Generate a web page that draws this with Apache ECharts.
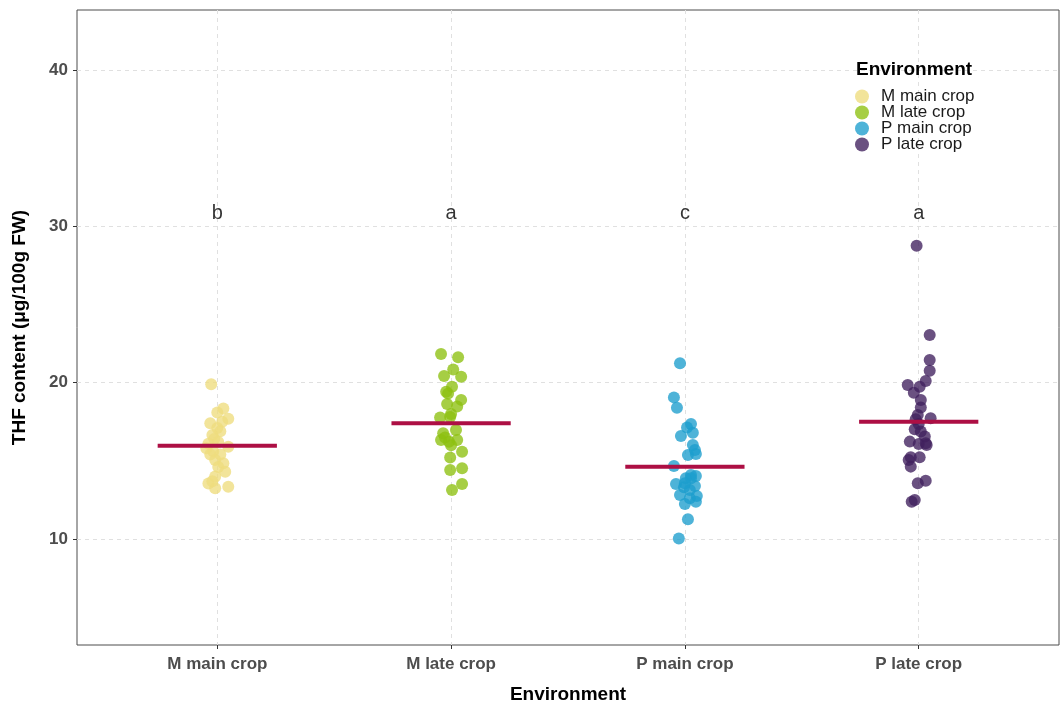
<!DOCTYPE html>
<html>
<head>
<meta charset="utf-8">
<script src="https://cdn.jsdelivr.net/npm/echarts@6/dist/echarts.min.js"></script>
<style>
  html, body { margin: 0; padding: 0; background: #fff; }
  #chart { width: 1060px; height: 707px; }
</style>
</head>
<body>
<div id="chart"></div>
<script>
// groups on the x axis
const groups = ['M main crop', 'M late crop', 'P main crop', 'P late crop'];
const groupColors = ['#EEDC7E', '#8DC00F', '#1C9DCD', '#40205E'];

// THF values per group and their horizontal jitter
const mMainVals = [19.9, 18.35, 18.1, 17.7, 17.4, 17.5, 17.1, 16.9, 16.65, 16.4, 16.1, 15.9, 15.6, 15.4, 15.4, 15.05, 14.85, 14.6, 14.3, 14.0, 13.55, 13.25, 13.35, 16.2, 15.8, 13.7];
const mMainJit = [-0.026, 0.026, 0, 0.047, -0.03, 0.021, 0, 0.013, -0.021, -0.013, -0.038, 0.047, -0.017, -0.03, 0.013, -0.009, 0.026, 0.004, 0.034, -0.009, -0.038, -0.009, 0.047, 0.004, -0.047, -0.021];

const mLateVals = [21.83, 21.62, 20.85, 20.43, 20.38, 19.74, 19.42, 19.3, 18.9, 18.64, 18.47, 18.0, 17.78, 17.8, 16.97, 16.76, 16.33, 16.22, 16.33, 16.5, 16.0, 15.58, 15.22, 14.41, 14.52, 13.52, 13.13];
const mLateJit = [-0.043, 0.03, 0.009, -0.03, 0.043, 0.004, -0.021, -0.013, 0.043, -0.017, 0.026, 0, -0.047, -0.004, 0.021, -0.034, -0.043, -0.009, 0.026, -0.026, 0, 0.047, -0.004, -0.004, 0.047, 0.047, 0.004];

const pMainVals = [21.24, 19.06, 18.4, 17.35, 17.14, 16.8, 16.59, 16.01, 15.69, 15.37, 15.44, 14.67, 14.09, 14.03, 13.88, 13.52, 13.39, 13.31, 13.13, 12.81, 12.75, 12.6, 12.24, 12.39, 11.26, 10.04, 13.88, 13.56];
const pMainJit = [-0.021, -0.047, -0.034, 0.026, 0.009, 0.034, -0.017, 0.034, 0.043, 0.013, 0.047, -0.047, 0.026, 0.047, 0.004, -0.038, 0.043, -0.004, 0.021, -0.021, 0.051, 0.021, 0, 0.047, 0.013, -0.026, 0.026, 0];

const pLateVals = [28.76, 23.05, 21.45, 20.77, 20.11, 19.85, 19.74, 19.36, 18.89, 18.42, 17.93, 17.66, 17.72, 17.36, 17.02, 16.87, 16.55, 16.23, 16.12, 16.08, 16.01, 15.23, 15.23, 15.05, 14.63, 13.73, 13.56, 12.5, 12.39];
const pLateJit = [-0.009, 0.047, 0.047, 0.047, 0.03, -0.047, 0.004, -0.021, 0.009, 0.009, -0.004, -0.013, 0.051, 0, -0.017, 0.009, 0.026, -0.038, 0.03, 0, 0.034, -0.034, 0.004, -0.043, -0.034, 0.03, -0.004, -0.017, -0.03];

// group means (crimson bars) and significance letters
const groupMeans = [15.97, 17.4, 14.63, 17.5];
const letters = ['b', 'a', 'c', 'a'];
const letterY = 30.85;

const yTicks = [10, 20, 30, 40];

const FONT = 'Liberation Sans, Arial, sans-serif';
const allVals = [mMainVals, mLateVals, pMainVals, pLateVals];
const allJit = [mMainJit, mLateJit, pMainJit, pLateJit];

let chart = echarts.init(document.getElementById('chart'));

let series = [];
groups.forEach((g, i) => {
  series.push({
    name: g,
    type: 'scatter',
    xAxisIndex: 0,
    yAxisIndex: 0,
    symbol: 'circle',
    symbolSize: 12,
    itemStyle: { color: groupColors[i], opacity: 0.78 },
    emphasis: { disabled: true },
    data: allVals[i].map((v, k) => [i + 1 + allJit[i][k], v]),
    z: 3
  });
});
groupMeans.forEach((m, i) => {
  series.push({
    type: 'line',
    xAxisIndex: 0,
    yAxisIndex: 0,
    showSymbol: false,
    silent: true,
    lineStyle: { color: '#AD0F44', width: 4 },
    data: [[i + 1 - 0.255, m], [i + 1 + 0.255, m]],
    z: 5
  });
});
series.push({
  type: 'scatter',
  xAxisIndex: 0,
  yAxisIndex: 0,
  symbolSize: 0,
  silent: true,
  label: {
    show: true,
    position: 'inside',
    formatter: p => letters[p.dataIndex],
    color: '#000',
    fontSize: 20,
    fontFamily: FONT
  },
  data: letters.map((l, i) => [i + 1, letterY])
});

const option = {
  animation: false,
  backgroundColor: '#fff',
  title: {
    text: 'Environment',
    left: 851,
    top: 55,
    textStyle: { fontSize: 19, fontWeight: 'bold', color: '#000', fontFamily: FONT }
  },
  legend: {
    data: groups,
    orient: 'vertical',
    left: 850,
    top: 83,
    icon: 'circle',
    itemWidth: 14,
    itemHeight: 14,
    itemGap: -1,
    textStyle: { fontSize: 17, color: '#1a1a1a', fontFamily: FONT, padding: [0, 0, 0, 7] }
  },
  grid: [
    { left: 77, right: 1, top: 10, bottom: 62, outerBoundsMode: 'none', show: true, borderColor: '#4d4d4d', borderWidth: 1, backgroundColor: 'transparent' },
    { left: 217.4, right: 141.4, top: 10, bottom: 62, outerBoundsMode: 'none', show: false }
  ],
  xAxis: [
    { type: 'value', gridIndex: 0, min: 0.4, max: 4.6, show: false },
    {
      type: 'category',
      gridIndex: 1,
      data: groups,
      boundaryGap: false,
      name: 'Environment',
      nameLocation: 'middle',
      nameGap: 40,
      nameTextStyle: { fontSize: 19, fontWeight: 'bold', color: '#000', fontFamily: FONT },
      axisLine: { show: false },
      axisTick: { show: true, length: 4, lineStyle: { color: '#333' } },
      axisLabel: { fontSize: 17, fontWeight: 'bold', color: '#4d4d4d', fontFamily: FONT, margin: 11 },
      splitLine: { show: true, lineStyle: { color: '#e0e0e0', type: [4, 4] } }
    }
  ],
  yAxis: [
    {
      type: 'value',
      gridIndex: 0,
      min: 3.22,
      max: 43.84,
      name: 'THF content (μg/100g FW)',
      nameLocation: 'middle',
      nameGap: 48,
      nameTextStyle: { fontSize: 19, fontWeight: 'bold', color: '#000', fontFamily: FONT },
      axisLine: { show: false },
      axisTick: { show: true, length: 4, lineStyle: { color: '#333' }, customValues: yTicks },
      axisLabel: { fontSize: 17, fontWeight: 'bold', color: '#4d4d4d', fontFamily: FONT, margin: 9, customValues: yTicks },
      splitLine: { show: true, lineStyle: { color: '#e0e0e0', type: [4, 4] } }
    },
    { type: 'value', gridIndex: 1, min: 3.22, max: 43.84, show: false }
  ],
  series: series
};

chart.setOption(option);
</script>
</body>
</html>
